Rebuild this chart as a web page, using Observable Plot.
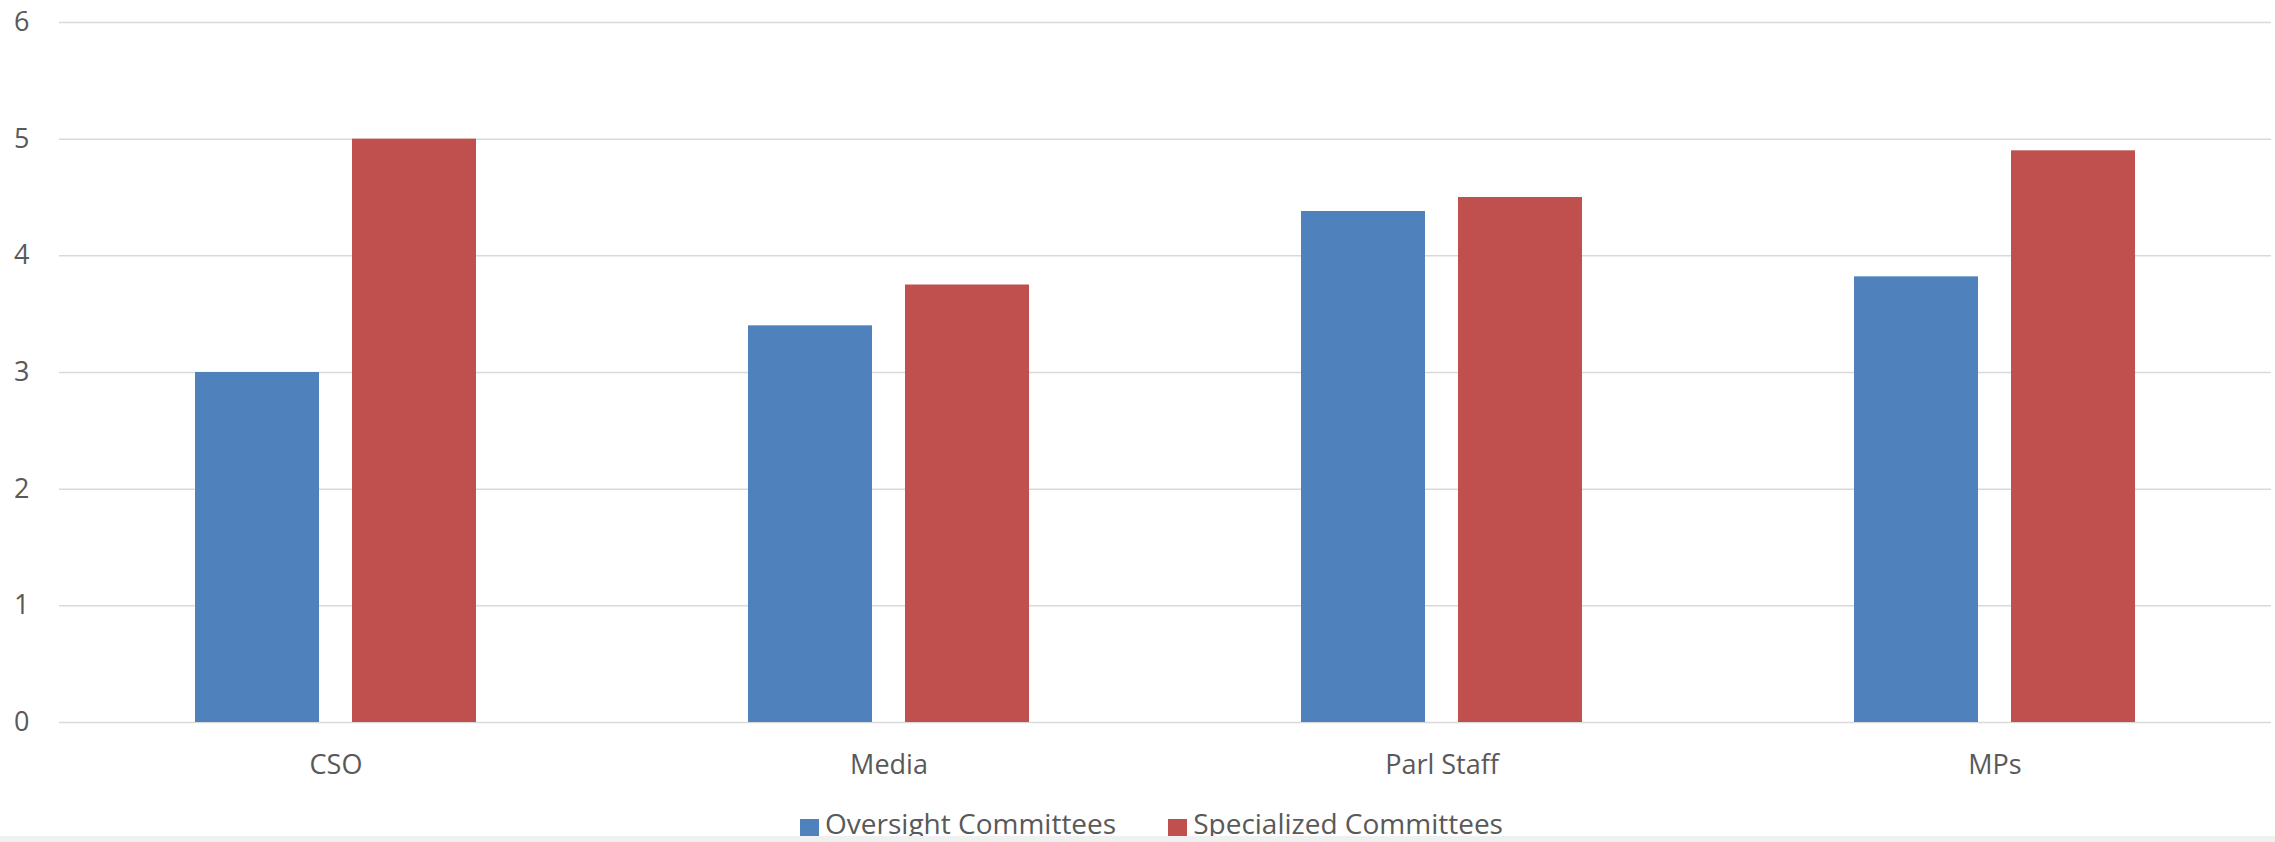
<!DOCTYPE html>
<html>
<head>
<meta charset="utf-8">
<script src="https://cdn.jsdelivr.net/npm/d3@7"></script>
<script src="https://cdn.jsdelivr.net/npm/@observablehq/plot@0.6"></script>
<style>
  html, body { margin: 0; padding: 0; background: #fff; overflow: hidden; }
  #wrap { position: relative; width: 2275px; height: 842px; }
  #legend { position: absolute; top: 809px; left: 0; width: 2275px;
    display: flex; justify-content: center; align-items: flex-start; padding-left: 28px; box-sizing: border-box;
    font-family: "Open Sans", sans-serif; font-size: 28px; color: #595959; }
  .item { display: flex; align-items: flex-start; margin: 0 26px; line-height: 1; }
  .sw { width: 19px; height: 19px; margin-right: 6px; margin-top: 10px; }
  #band { position: absolute; top: 836px; left: 0; width: 2275px; height: 6px; background: #f0f0f0; }
</style>
</head>
<body>
<div id="wrap"><div id="chart"></div><div id="legend"></div><div id="band"></div></div>
<script>
const categories = ["CSO", "Media", "Parl Staff", "MPs"];
const seriesNames = ["Oversight Committees", "Specialized Committees"];
const oversight = [3.0, 3.4, 4.38, 3.82];
const specialized = [5.0, 3.75, 4.5, 4.9];
const yTicks = [0, 1, 2, 3, 4, 5, 6];
const colors = ["#4F81BD", "#C0504D"];

const data = categories.flatMap((c, i) => [
  {category: c, series: seriesNames[0], value: oversight[i]},
  {category: c, series: seriesNames[1], value: specialized[i]}
]);

const chart = Plot.plot({
  width: 2275,
  height: 800,
  marginTop: 22,
  marginBottom: 78,
  marginLeft: 59,
  marginRight: 4,
  style: {fontFamily: "'Open Sans', sans-serif", fontSize: "27px", color: "#595959", background: "white"},
  fx: {domain: categories, padding: 0, label: null, axis: "bottom", tickSize: 0, tickPadding: 32},
  x: {domain: seriesNames, paddingInner: 0.21, paddingOuter: 0.866, axis: null},
  y: {domain: [0, 6], ticks: yTicks, tickFormat: d => String(d), tickSize: 0, tickPadding: 30, label: null},
  color: {domain: seriesNames, range: colors},
  marks: [
    Plot.ruleY(yTicks, {stroke: "#d9d9d9", strokeWidth: 1.5}),
    Plot.barY(data, {fx: "category", x: "series", y: "value", fill: "series"})
  ]
});
document.getElementById("chart").appendChild(chart);

const legend = document.getElementById("legend");
seriesNames.forEach((name, i) => {
  const item = document.createElement("div");
  item.className = "item";
  const sw = document.createElement("div");
  sw.className = "sw";
  sw.style.background = colors[i];
  const label = document.createElement("span");
  label.textContent = name;
  item.appendChild(sw);
  item.appendChild(label);
  legend.appendChild(item);
});
</script>
</body>
</html>
